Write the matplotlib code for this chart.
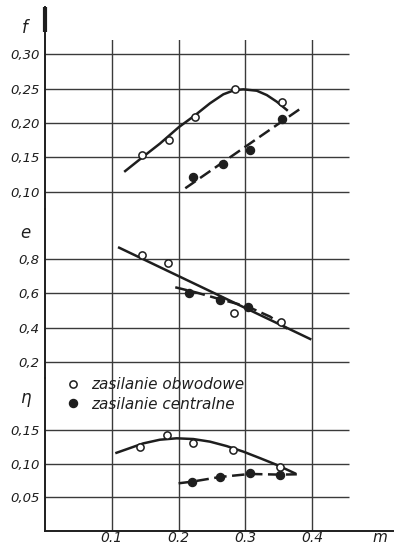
import matplotlib
matplotlib.use("Agg")
import matplotlib.pyplot as plt
from matplotlib.lines import Line2D

# ---------------- data ----------------
# panel f
f_open_m = [0.145, 0.185, 0.225, 0.285, 0.355]
f_open_v = [0.153, 0.175, 0.209, 0.250, 0.231]
f_fill_m = [0.222, 0.267, 0.307, 0.355]
f_fill_v = [0.122, 0.140, 0.161, 0.206]
f_curve_m = [0.120, 0.147, 0.172, 0.200, 0.225, 0.247, 0.267, 0.284, 0.297, 0.317, 0.332, 0.347, 0.362]
f_curve_v = [0.130, 0.151, 0.170, 0.1937, 0.2116, 0.2287, 0.2418, 0.248, 0.249, 0.247, 0.2407, 0.231, 0.219]
f_dash_m = [0.210, 0.387]
f_dash_v = [0.105, 0.224]

# panel e
e_open_m = [0.145, 0.184, 0.283, 0.354]
e_open_v = [0.825, 0.777, 0.487, 0.434]
e_fill_m = [0.215, 0.262, 0.304]
e_fill_v = [0.601, 0.562, 0.522]
e_line_m = [0.111, 0.397]
e_line_v = [0.868, 0.333]
e_dash_m = [0.195, 0.227, 0.262, 0.304, 0.337, 0.369]
e_dash_v = [0.636, 0.605, 0.566, 0.522, 0.464, 0.376]

# panel eta
h_open_m = [0.142, 0.182, 0.222, 0.282, 0.352]
h_open_v = [0.125, 0.1425, 0.130, 0.120, 0.095]
h_fill_m = [0.220, 0.262, 0.307, 0.352]
h_fill_v = [0.073, 0.080, 0.0855, 0.083]
h_curve_m = [0.107, 0.147, 0.172, 0.197, 0.222, 0.247, 0.272, 0.297, 0.322, 0.347, 0.374]
h_curve_v = [0.116, 0.130, 0.1355, 0.1376, 0.1365, 0.1326, 0.126, 0.1177, 0.108, 0.098, 0.0855]
h_dash_m = [0.200, 0.220, 0.262, 0.307, 0.352, 0.377]
h_dash_v = [0.0706, 0.073, 0.080, 0.0845, 0.0835, 0.084]

x_ticks = [0.1, 0.2, 0.3, 0.4]
x_labels = ["0.1", "0.2", "0.3", "0.4"]
f_ticks = [0.10, 0.15, 0.20, 0.25, 0.30]
f_labels = ["0,10", "0,15", "0,20", "0,25", "0,30"]
e_ticks = [0.2, 0.4, 0.6, 0.8]
e_labels = ["0,2", "0,4", "0,6", "0,8"]
h_ticks = [0.05, 0.10, 0.15]
h_labels = ["0,05", "0,10", "0,15"]
legend_labels = ["zasilanie obwodowe", "zasilanie centralne"]

# ---------------- style ----------------
W, H = 406, 552
INK = "#1e1e1e"
GRID = "#3a3a3a"
FONT = ["Liberation Sans Narrow", "DejaVu Sans"]
plt.rcParams["font.family"] = FONT

fig = plt.figure(figsize=(W / 100, H / 100), dpi=100)
fig.patch.set_facecolor("white")

X0, X1 = 45, 393
XMAX = (X1 - X0) / 668.0
GRID_END = 0.455

# background axes carrying the vertical grid lines over the full height
ax_bg = fig.add_axes([X0 / W, 1 - 530.7 / H, (X1 - X0) / W, (530.7 - 40) / H])
ax_bg.set_xlim(0, XMAX)
ax_bg.set_ylim(0, 1)
ax_bg.axis("off")
for x in x_ticks:
    ax_bg.axvline(x, color=GRID, lw=1.0, zorder=1)


def make_ax(top_px, bot_px, ylim):
    ax = fig.add_axes([X0 / W, 1 - bot_px / H, (X1 - X0) / W, (bot_px - top_px) / H])
    ax.set_xlim(0, XMAX)
    ax.set_ylim(*ylim)
    for s in ("top", "right", "bottom"):
        ax.spines[s].set_visible(False)
    ax.spines["left"].set_color(INK)
    ax.spines["left"].set_linewidth(1.4)
    ax.tick_params(axis="both", length=0, pad=4, labelsize=9.5, colors=INK)
    ax.set_xticks([])
    ax.patch.set_visible(False)
    return ax


ax_f = make_ax(7, 209, (0.0748, 0.3689))
ax_e = make_ax(209, 378, (0.1045, 1.0947))
ax_h = make_ax(378, 530.7, (0.0, 0.2274))

# horizontal grid lines
for ax, ticks, labels in ((ax_f, f_ticks, f_labels),
                          (ax_e, e_ticks, e_labels),
                          (ax_h, h_ticks, h_labels)):
    ax.set_yticks(ticks)
    ax.set_yticklabels(labels, fontstyle="italic")
    ax.hlines(ticks, 0, GRID_END, color=GRID, lw=1.0, zorder=1)

# thick top of the axis
ax_f.plot([0, 0], [0.333, 0.3689], color=INK, lw=3.0, clip_on=False, solid_capstyle="butt")

# bottom axis
ax_h.spines["bottom"].set_visible(True)
ax_h.spines["bottom"].set_color(INK)
ax_h.spines["bottom"].set_linewidth(1.4)
ax_h.set_xticks(x_ticks)
ax_h.set_xticklabels(x_labels, fontstyle="italic")
ax_h.tick_params(axis="x", pad=0.5, labelsize=10)

LW = 1.8
DASH = (5, 2.2)
ms = 5.2


def open_pts(ax, m, v):
    ax.plot(m, v, "o", ms=ms, mfc="white", mec=INK, mew=1.1, zorder=4, ls="none")


def fill_pts(ax, m, v):
    ax.plot(m, v, "o", ms=ms + 0.6, mfc=INK, mec=INK, zorder=4, ls="none")


# f panel
ax_f.plot(f_curve_m, f_curve_v, color=INK, lw=LW, zorder=3, solid_joinstyle="round")
ax_f.plot(f_dash_m, f_dash_v, color=INK, lw=LW, dashes=DASH, zorder=3)
open_pts(ax_f, f_open_m, f_open_v)
fill_pts(ax_f, f_fill_m, f_fill_v)

# e panel
ax_e.plot(e_line_m, e_line_v, color=INK, lw=LW, zorder=3)
ax_e.plot(e_dash_m, e_dash_v, color=INK, lw=LW, dashes=DASH, zorder=3)
open_pts(ax_e, e_open_m, e_open_v)
fill_pts(ax_e, e_fill_m, e_fill_v)

# eta panel
ax_h.plot(h_curve_m, h_curve_v, color=INK, lw=LW, zorder=3, solid_joinstyle="round")
ax_h.plot(h_dash_m, h_dash_v, color=INK, lw=LW, dashes=DASH, zorder=3)
open_pts(ax_h, h_open_m, h_open_v)
fill_pts(ax_h, h_fill_m, h_fill_v)

# axis names
fig.text(25 / W, 1 - 28 / H, "f", fontsize=12, fontstyle="italic", ha="center", va="center", color=INK)
fig.text(25 / W, 1 - 233 / H, "e", fontsize=12, fontstyle="italic", ha="center", va="center", color=INK)
fig.text(25 / W, 1 - 398 / H, "η", fontsize=12, fontstyle="italic", ha="center", va="center",
         color=INK, family=["DejaVu Sans"])
fig.text(380 / W, 1 - 537 / H, "m", fontsize=11, fontstyle="italic", ha="center", va="center", color=INK)

# legend
handles = [
    Line2D([], [], ls="none", marker="o", ms=ms, mfc="white", mec=INK, mew=1.1),
    Line2D([], [], ls="none", marker="o", ms=ms + 0.6, mfc=INK, mec=INK),
]
leg = fig.legend(handles, legend_labels, loc="upper left",
                 bbox_to_anchor=(67 / W, 1 - 377 / H), frameon=False,
                 handlelength=0.8, handletextpad=0.8, borderpad=0, borderaxespad=0,
                 labelspacing=0.3, prop={"size": 11, "style": "italic", "family": FONT})
for t in leg.get_texts():
    t.set_color(INK)

fig.savefig("out.png", dpi=100, facecolor="white")
